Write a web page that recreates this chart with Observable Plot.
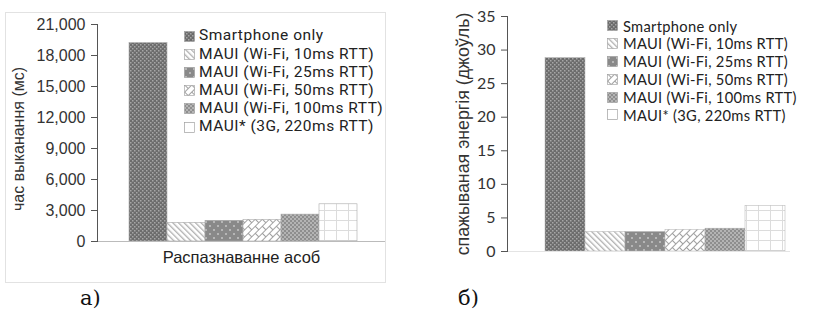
<!DOCTYPE html>
<html><head><meta charset="utf-8">
<script src="https://cdn.jsdelivr.net/npm/d3@7"></script>
<script src="https://cdn.jsdelivr.net/npm/@observablehq/plot@0.6"></script>
<style>
body{margin:0;background:#fff;width:819px;height:326px;position:relative;overflow:hidden;font-family:"Liberation Sans",Arial,sans-serif}
.abs{position:absolute}
.leg{position:absolute;color:#222;white-space:nowrap}
.leg .row{display:flex;align-items:center}
.leg span{line-height:1}
.leg svg{flex:none}
.panel{position:absolute;font-family:"DejaVu Serif","Liberation Serif",serif;font-size:21px;color:#111}
</style></head><body>
<svg width="0" height="0" style="position:absolute">
<defs>
<pattern id="p0" width="4" height="4" patternUnits="userSpaceOnUse">
<rect width="4" height="4" fill="#6c6c6c"/><rect x="0" y="0" width="1.5" height="1.5" fill="#a6a6a6"/><rect x="2" y="2" width="1.5" height="1.5" fill="#a6a6a6"/></pattern>
<pattern id="p1" width="4" height="4" patternUnits="userSpaceOnUse" patternTransform="rotate(-45)">
<rect width="4" height="4" fill="#fff"/><line x1="0.7" y1="0" x2="0.7" y2="4" stroke="#a8a8a8" stroke-width="1.2"/></pattern>
<pattern id="p2" width="8" height="8" patternUnits="userSpaceOnUse">
<rect width="8" height="8" fill="#898989"/><circle cx="2" cy="2" r="1" fill="#c6c6c6"/><circle cx="6" cy="6" r="1" fill="#c6c6c6"/></pattern>
<pattern id="p3" width="10" height="10" patternUnits="userSpaceOnUse" patternTransform="rotate(-45)">
<rect width="10" height="10" fill="#fff"/>
<line x1="0" y1="0.5" x2="10" y2="0.5" stroke="#a0a0a0" stroke-width="1"/>
<line x1="0" y1="5.5" x2="10" y2="5.5" stroke="#a0a0a0" stroke-width="1"/>
<line x1="0.5" y1="0" x2="0.5" y2="5.5" stroke="#a0a0a0" stroke-width="1"/>
<line x1="5.5" y1="5.5" x2="5.5" y2="10" stroke="#a0a0a0" stroke-width="1"/></pattern>
<pattern id="p4" width="4" height="4" patternUnits="userSpaceOnUse">
<rect width="4" height="4" fill="#8e8e8e"/><rect x="0" y="0" width="2" height="2" fill="#b4b4b4"/><rect x="2" y="2" width="2" height="2" fill="#b4b4b4"/></pattern>
<pattern id="p5" width="12" height="10" patternUnits="userSpaceOnUse">
<rect width="12" height="10" fill="#fff"/>
<line x1="0" y1="0.5" x2="12" y2="0.5" stroke="#dcdcdc" stroke-width="1"/>
<line x1="0.5" y1="0" x2="0.5" y2="10" stroke="#dcdcdc" stroke-width="1"/></pattern>
</defs></svg>

<div class="abs" style="left:5px;top:12px;width:379px;height:269px;border:1px solid #e2e2e2"></div>
<div id="chartA" class="abs" style="left:0;top:0"></div>
<div id="chartB" class="abs" style="left:410px;top:0"></div>
<div id="legA" class="leg" style="left:184px;top:27px;font-size:15.5px;letter-spacing:0.5px;font-family:Roboto,sans-serif"></div>
<div id="legB" class="leg" style="left:607px;top:17px;font-size:14.7px;letter-spacing:0.3px;font-family:Lato,'Open Sans',sans-serif"></div>
<div class="panel" style="left:80px;top:286px">а)</div>
<div class="panel" style="left:458px;top:286px">б)</div>

<script>
const series = [
  "Smartphone only",
  "MAUI (Wi-Fi, 10ms RTT)",
  "MAUI (Wi-Fi, 25ms RTT)",
  "MAUI (Wi-Fi, 50ms RTT)",
  "MAUI (Wi-Fi, 100ms RTT)",
  "MAUI* (3G, 220ms RTT)"
];
const timeMs = [19200, 1800, 2000, 2100, 2600, 3600];
const energyJ = [28.8, 2.9, 2.9, 3.2, 3.4, 6.8];
const timeTicks = [0, 3000, 6000, 9000, 12000, 15000, 18000, 21000];
const energyTicks = [0, 5, 10, 15, 20, 25, 30, 35];
const categoryLabel = "Распазнаванне асоб";
const timeTitle = "час выканання (мс)";
const energyTitle = "спажываная энергія (джоўль)";
const patterns = ["url(#p0)", "url(#p1)", "url(#p2)", "url(#p3)", "url(#p4)", "url(#p5)"];

const dataA = series.map((s, i) => ({s, v: timeMs[i], fill: patterns[i]}));
const dataB = series.map((s, i) => ({s, v: energyJ[i], fill: patterns[i]}));

const chartA = Plot.plot({
  width: 390, height: 290,
  marginLeft: 97, marginRight: 5, marginTop: 24, marginBottom: 49,
  style: {fontFamily: "'Liberation Sans', Arial, sans-serif", color: "#333", background: "transparent"},
  x: {domain: series, range: [128, 357], padding: 0, axis: null},
  y: {domain: [0, 21000], axis: null},
  color: {type: "identity"},
  marks: [
    Plot.barY(dataA, {x: "s", y: "v", fill: "fill", stroke: "#a8a8a8", strokeWidth: 0.6}),
    Plot.ruleY([0], {stroke: "#bbb"}),
    Plot.frame({anchor: "left", stroke: "#555"}),
    Plot.axisY(timeTicks, {tickFormat: d3.format(","), tickSize: 6, tickPadding: 6, fontSize: 16, label: null, stroke: "#555"}),
    Plot.text([timeTitle], {frameAnchor: "left", textAnchor: "middle", rotate: -90, dx: -79, dy: 6, fontSize: 16, fill: "#333"}),
    Plot.text([categoryLabel], {frameAnchor: "bottom", dy: 21, fontSize: 16.5, fill: "#222"})
  ]
});
document.getElementById("chartA").append(chartA);

const chartB = Plot.plot({
  width: 409, height: 290,
  marginLeft: 97, marginRight: 29, marginTop: 16, marginBottom: 39,
  style: {fontFamily: "Lato, 'Open Sans', sans-serif", color: "#333", background: "transparent"},
  x: {domain: series, range: [132, 377], padding: 0, axis: null},
  y: {domain: [0, 35], axis: null},
  color: {type: "identity"},
  marks: [
    Plot.barY(dataB, {x: "s", y: "v", fill: "fill", stroke: "#b0b0b0", strokeWidth: 0.5}),
    Plot.ruleY([0], {stroke: "#e4e4e4"}),
    Plot.frame({anchor: "left", stroke: "#555"}),
    Plot.axisY(energyTicks, {tickSize: 6, tickPadding: 6, fontSize: 16, label: null, stroke: "#555"}),
    Plot.text([energyTitle], {frameAnchor: "left", textAnchor: "middle", rotate: -90, dx: -44, dy: 0, fontSize: 17.8, fill: "#333", fontFamily: "'Liberation Sans', Arial, sans-serif"})
  ]
});
document.getElementById("chartB").append(chartB);

function legend(id, rowH, gap) {
  const el = document.getElementById(id);
  series.forEach((s, i) => {
    const row = document.createElement("div");
    row.className = "row";
    row.style.height = rowH + "px";
    row.innerHTML = `<svg width="11" height="11" style="margin-right:${gap}px"><rect x="0.5" y="0.5" width="10" height="10" fill="${patterns[i]}" stroke="#999" stroke-width="0.6"/></svg>`;
    const t = document.createElement("span");
    t.textContent = s;
    row.append(t);
    el.append(row);
  });
}
legend("legA", 18.2, 4);
legend("legB", 17.8, 5);
</script>
</body></html>
